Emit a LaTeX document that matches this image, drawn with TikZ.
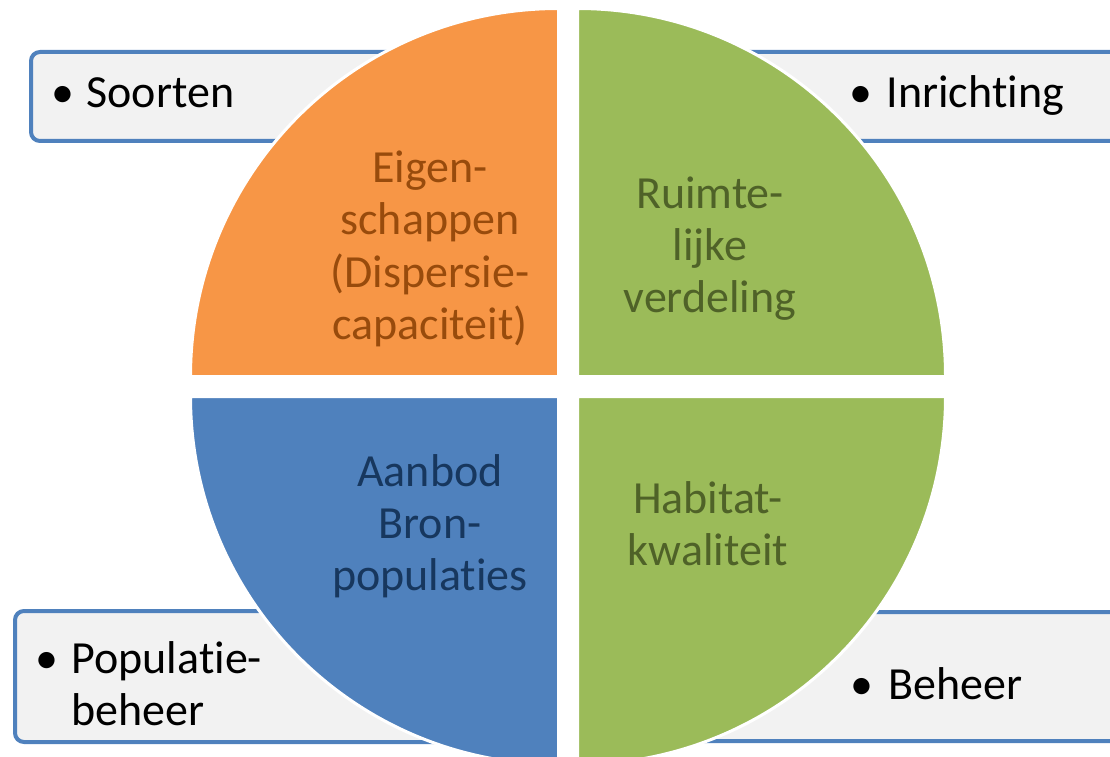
\documentclass[tikz,border=0pt]{standalone}
\usepackage{fontspec}
\setmainfont{Carlito}[Ligatures={NoCommon}]
\usetikzlibrary{positioning}
\definecolor{quadorange}{RGB}{247, 150, 70}
\definecolor{quadgreen}{RGB}{155, 187, 89}
\definecolor{quadblue}{RGB}{79, 129, 189}
\definecolor{textorange}{RGB}{152, 75, 12}
\definecolor{textgreen}{RGB}{79, 98, 40}
\definecolor{textblue}{RGB}{23, 55, 94}
\definecolor{boxgray}{RGB}{242, 242, 242}

\begin{document}
\begin{tikzpicture}[x=1pt, y=1pt,
    infobox/.style={draw=quadblue, line width=4pt, fill=boxgray, rounded corners=9pt},
    quadrant/.style={draw=white, line width=3pt},
    quadtext/.style={anchor=base, align=center, font=\fontsize{46}{52}\selectfont},
    itemtext/.style={anchor=base west, align=left, font=\fontsize{46}{52}\selectfont}
]
    \useasboundingbox (0,0) rectangle (1110,756);
    \clip (0,0) rectangle (1110,756);

    % Boxes - behind the circle
    \draw[infobox] (31,704) rectangle (500,615);
    \draw[infobox] (640,704) rectangle (1130,615);
    \draw[infobox] (15,145) rectangle (500,14);
    \draw[infobox] (640,144) rectangle (1130,15);

    % Quadrants
    \draw[quadrant, fill=quadorange] (558.5,379.5) -- ++(-368,0) arc[start angle=180, end angle=90, radius=368] -- cycle;
    \draw[quadrant, fill=quadgreen] (577.5,379.5) -- ++(0,368) arc[start angle=90, end angle=0, radius=368] -- cycle;
    \draw[quadrant, fill=quadblue] (558.5,359.5) -- ++(-368,0) arc[start angle=180, end angle=270, radius=368] -- cycle;
    \draw[quadrant, fill=quadgreen] (577.5,359.5) -- ++(368,0) arc[start angle=0, end angle=-90, radius=368] -- cycle;

    % Quadrant labels (anchored on last line)
    \node[quadtext, text=textorange] (eigenschappen) at (430,417) {Eigen-\\schappen\\(Dispersie-\\capaciteit)};
    \node[quadtext, text=textgreen] (ruimtelijk) at (710,443) {Ruimte-\\lijke\\verdeling};
    \node[quadtext, text=textblue] (aanbod) at (430,166) {Aanbod\\Bron-\\populaties};
    \node[quadtext, text=textgreen] (habitat) at (708,191) {Habitat-\\kwaliteit};

    % Box items
    \node[itemtext] (soorten) at (48,648) {\makebox[35pt][l]{•}Soorten};
    \node[itemtext] (inrichting) at (846,648) {\makebox[37pt][l]{•}Inrichting};
    \node[itemtext] (populatiebeheer) at (32,31) {\makebox[36pt][l]{•}Populatie-\\\hspace*{36pt}beheer};
    \node[itemtext] (beheer) at (847,57) {\makebox[38pt][l]{•}Beheer};

\end{tikzpicture}
\end{document}
